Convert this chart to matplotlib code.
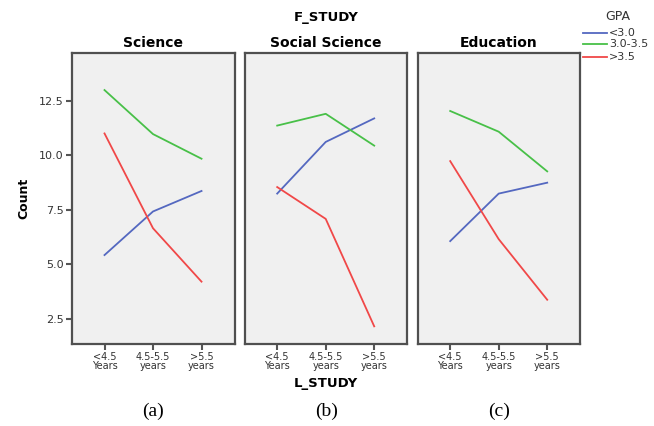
import matplotlib
matplotlib.use("Agg")
import matplotlib.pyplot as plt

panels = ["Science", "Social Science", "Education"]
panel_labels = ["(a)", "(b)", "(c)"]
x_labels = ["<4.5\nYears", "4.5-5.5\nyears", ">5.5\nyears"]
gpa_groups = ["<3.0", "3.0-3.5", ">3.5"]
colors = ["#5468c0", "#48c048", "#f04848"]

# counts per panel, per GPA group, per L_STUDY category
science = {"<3.0": [5.42, 7.42, 8.36], "3.0-3.5": [12.99, 10.97, 9.84], ">3.5": [11.0, 6.65, 4.2]}
social = {"<3.0": [8.24, 10.61, 11.69], "3.0-3.5": [11.36, 11.9, 10.44], ">3.5": [8.54, 7.08, 2.15]}
education = {"<3.0": [6.06, 8.24, 8.74], "3.0-3.5": [12.03, 11.08, 9.26], ">3.5": [9.73, 6.15, 3.37]}
data = [science, social, education]

yticks = [2.5, 5.0, 7.5, 10.0, 12.5]

plt.rcParams['font.family'] = ['DejaVu Sans']
fig = plt.figure(figsize=(6.54, 4.26), dpi=100)
lefts = [72 / 654, 244.7 / 654, 417.7 / 654]
width = 162.5 / 654
bottom = 1 - 344 / 426
height = (344 - 53) / 426

axes = []
for i, (name, d) in enumerate(zip(panels, data)):
    ax = fig.add_axes([lefts[i], bottom, width, height])
    axes.append(ax)
    ax.set_facecolor("#f0f0f0")
    xs = list(range(len(x_labels)))
    for g, c in zip(gpa_groups, colors):
        ax.plot(xs, d[g], color=c, lw=1.3, label=g)
    ax.set_xlim(-0.67, 2.68)
    ax.set_ylim(1.34, 14.69)
    ax.set_xticks(xs)
    ax.set_xticklabels(x_labels, fontsize=7, color="#333333", linespacing=0.85)
    ax.set_yticks(yticks)
    if i == 0:
        ax.set_yticklabels([f"{v:.1f}" for v in yticks], fontsize=8, color="#333333")
    else:
        ax.tick_params(axis='y', left=False, labelleft=False)
    ax.tick_params(axis='both', direction='out', length=4, width=1.5, color="#555555", pad=2)
    for sp in ax.spines.values():
        sp.set_color("#505050")
        sp.set_linewidth(1.6)
    ax.set_title(name, fontsize=10, fontweight='bold', pad=4)

axes[0].set_ylabel("Count", fontsize=9, fontweight='bold', labelpad=6)

fig.text(326 / 654, 1 - 17 / 426, "F_STUDY", ha='center', va='center', fontsize=9.5, fontweight='bold')
fig.text(326 / 654, 1 - 383 / 426, "L_STUDY", ha='center', va='center', fontsize=9.5, fontweight='bold')

centers = [153.3, 326.3, 499.3]
for cx, lab in zip(centers, panel_labels):
    fig.text(cx / 654, 1 - 411 / 426, lab, ha='center', va='center', fontsize=14,
             family=['Liberation Serif', 'DejaVu Serif'])

# legend
fig.text(618 / 654, 1 - 16 / 426, "GPA", ha='center', va='center', fontsize=9, color="#333333")
leg_y = [33, 44, 57]
for g, c, yy in zip(gpa_groups, colors, leg_y):
    fy = 1 - yy / 426
    fig.add_artist(plt.Line2D([583 / 654, 607 / 654], [fy, fy], color=c, lw=1.3))
    fig.text(609 / 654, fy, g, ha='left', va='center', fontsize=8, color="#333333")

fig.savefig("out.png", dpi=100)
